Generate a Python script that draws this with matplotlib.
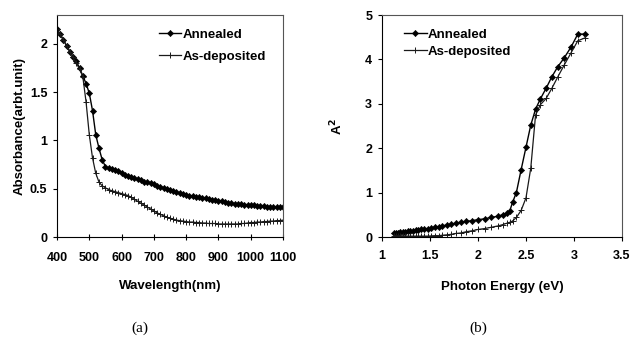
import matplotlib
matplotlib.use("Agg")
import matplotlib.pyplot as plt
from matplotlib.ticker import FuncFormatter

# (a) absorbance vs wavelength
wavelength = [400, 410, 420, 430, 440, 450, 460, 470, 480, 490,
              500, 510, 520, 530, 540, 550, 560, 570, 580, 590,
              600, 610, 620, 630, 640, 650, 660, 670, 680, 690,
              700, 710, 720, 730, 740, 750, 760, 770, 780, 790,
              800, 810, 820, 830, 840, 850, 860, 870, 880, 890,
              900, 910, 920, 930, 940, 950, 960, 970, 980, 990,
              1000, 1010, 1020, 1030, 1040, 1050, 1060, 1070, 1080, 1090, 1100]
abs_annealed = [2.15, 2.10, 2.04, 1.98, 1.92, 1.87, 1.82, 1.75, 1.67, 1.59,
                1.49, 1.31, 1.06, 0.92, 0.80, 0.73, 0.71, 0.70, 0.69, 0.68,
                0.66, 0.645, 0.63, 0.62, 0.61, 0.60, 0.59, 0.575, 0.565, 0.555,
                0.545, 0.53, 0.52, 0.51, 0.50, 0.49, 0.475, 0.465, 0.455, 0.445,
                0.44, 0.43, 0.425, 0.415, 0.41, 0.405, 0.40, 0.39, 0.385, 0.38,
                0.375, 0.37, 0.365, 0.355, 0.35, 0.345, 0.34, 0.34, 0.335, 0.335,
                0.33, 0.33, 0.325, 0.32, 0.32, 0.315, 0.315, 0.31, 0.31, 0.31, 0.31]
abs_asdep = [2.15, 2.10, 2.04, 1.98, 1.92, 1.86, 1.80, 1.74, 1.66, 1.40,
             1.06, 0.82, 0.66, 0.57, 0.53, 0.51, 0.49, 0.48, 0.47, 0.46,
             0.45, 0.44, 0.43, 0.41, 0.39, 0.37, 0.35, 0.33, 0.31, 0.29,
             0.27, 0.25, 0.235, 0.22, 0.205, 0.195, 0.185, 0.175, 0.17, 0.165,
             0.16, 0.155, 0.155, 0.15, 0.15, 0.145, 0.145, 0.14, 0.14, 0.14,
             0.135, 0.135, 0.135, 0.135, 0.135, 0.135, 0.135, 0.14, 0.14, 0.145,
             0.15, 0.15, 0.155, 0.155, 0.16, 0.16, 0.165, 0.165, 0.17, 0.17, 0.175]

# (b) A^2 vs photon energy
energy = [1.13, 1.15, 1.17, 1.19, 1.22, 1.24, 1.27, 1.29, 1.32, 1.35,
          1.38, 1.41, 1.44, 1.48, 1.51, 1.55, 1.59, 1.63, 1.68, 1.72,
          1.77, 1.82, 1.88, 1.94, 2.00, 2.07, 2.14, 2.21, 2.26, 2.30,
          2.33, 2.36, 2.40, 2.45, 2.50, 2.55, 2.60, 2.65, 2.71, 2.77,
          2.83, 2.90, 2.97, 3.04, 3.11]
a2_annealed = [0.09, 0.10, 0.10, 0.11, 0.11, 0.12, 0.13, 0.13, 0.14, 0.15,
               0.16, 0.17, 0.18, 0.19, 0.20, 0.22, 0.23, 0.25, 0.27, 0.29,
               0.31, 0.33, 0.35, 0.37, 0.39, 0.41, 0.44, 0.47, 0.50, 0.53,
               0.58, 0.78, 1.00, 1.52, 2.02, 2.52, 2.88, 3.11, 3.35, 3.61,
               3.83, 4.04, 4.28, 4.57, 4.57]
a2_asdep = [0.03, 0.03, 0.03, 0.03, 0.025, 0.025, 0.02, 0.02, 0.02, 0.02,
            0.02, 0.02, 0.02, 0.02, 0.025, 0.03, 0.03, 0.04, 0.05, 0.06,
            0.08, 0.09, 0.12, 0.14, 0.17, 0.19, 0.22, 0.25, 0.28, 0.31,
            0.33, 0.36, 0.44, 0.60, 0.88, 1.55, 2.75, 2.98, 3.12, 3.35,
            3.60, 3.88, 4.15, 4.42, 4.48]

plt.rcParams['font.family'] = ['Liberation Sans', 'DejaVu Sans']
plt.rcParams['font.size'] = 9

fig = plt.figure(figsize=(6.34, 3.38), dpi=100)
ax1 = fig.add_axes([0.0899, 0.2988, 0.3565, 0.6568])
ax2 = fig.add_axes([0.6025, 0.2988, 0.3785, 0.6568])

ann_style = dict(color='black', lw=1.0, marker='D', markersize=3.2,
                 markerfacecolor='black', markeredgewidth=0.4)
dep_style = dict(color='#1a1a1a', lw=0.9, marker='+', markersize=4,
                 markeredgewidth=0.7)

ax1.plot(wavelength, abs_annealed, label='Annealed', **ann_style)
ax1.plot(wavelength, abs_asdep, label='As-deposited', **dep_style)
ax2.plot(energy, a2_annealed, label='Annealed', **ann_style)
ax2.plot(energy, a2_asdep, label='As-deposited', **dep_style)

fmt = FuncFormatter(lambda v, p: f'{v:g}')
ax1.set_xlim(400, 1100)
ax1.set_ylim(0, 2.3)
ax1.set_xticks(range(400, 1101, 100))
ax1.set_yticks([0, 0.5, 1, 1.5, 2])
ax2.set_xlim(1, 3.5)
ax2.set_ylim(0, 5)
ax2.set_xticks([1, 1.5, 2, 2.5, 3, 3.5])
ax2.set_yticks([0, 1, 2, 3, 4, 5])

for ax in (ax1, ax2):
    ax.xaxis.set_major_formatter(fmt)
    ax.yaxis.set_major_formatter(fmt)
    ax.tick_params(direction='out', length=3, width=0.8, pad=4, labelsize=9)
    for lab in ax.get_xticklabels() + ax.get_yticklabels():
        lab.set_fontweight('bold')
    for spine in ax.spines.values():
        spine.set_linewidth(0.8)
    ax.spines['top'].set_color('#555555')
    ax.spines['right'].set_color('#555555')

ax1.tick_params(axis='x', direction='inout', length=5, pad=8)
ax2.tick_params(axis='x', pad=6)

ax1.set_xlabel('Wavelength(nm)', fontsize=9.5, fontweight='bold', labelpad=12)
ax1.set_ylabel('Absorbance(arbt.unit)', fontsize=9.5, fontweight='bold', labelpad=3)
ax2.set_xlabel('Photon Energy (eV)', fontsize=9.5, fontweight='bold', labelpad=14)
ax2.set_ylabel('A$^{\\mathbf{2}}$', fontsize=9.5, fontweight='bold', labelpad=14)

leg1 = ax1.legend(loc='upper left', bbox_to_anchor=(0.42, 0.97), frameon=False,
                  borderpad=0, handlelength=1.7, handletextpad=0.1,
                  labelspacing=0.75, prop={'size': 9.5, 'weight': 'bold'})
leg2 = ax2.legend(loc='upper left', bbox_to_anchor=(0.065, 0.97), frameon=False,
                  borderpad=0, handlelength=1.7, handletextpad=0.1,
                  labelspacing=0.4, prop={'size': 9.5, 'weight': 'bold'})

fig.text(140 / 634, 1 - 328 / 338, '(a)', ha='center', va='center',
         family='Liberation Serif', fontsize=11)
fig.text(478 / 634, 1 - 328 / 338, '(b)', ha='center', va='center',
         family='Liberation Serif', fontsize=11)

fig.savefig('out.png', dpi=100)
